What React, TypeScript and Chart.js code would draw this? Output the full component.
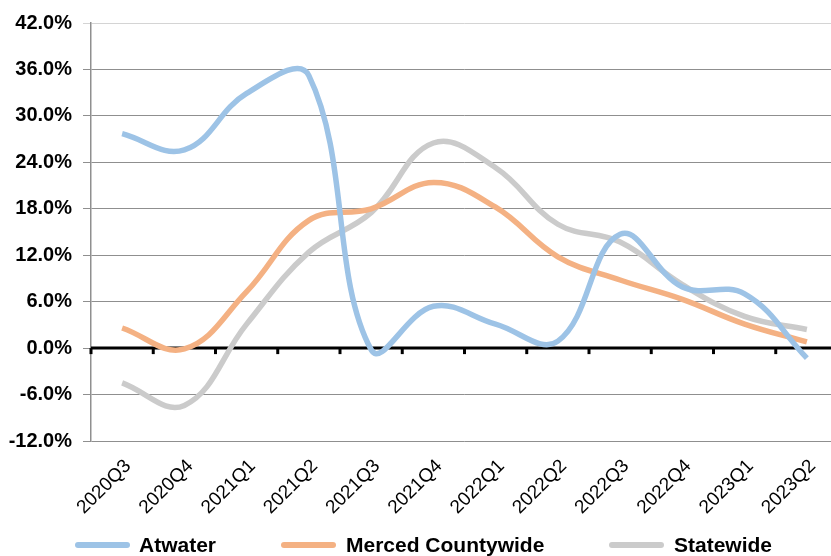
import React, { useEffect, useRef } from "react";
import { Chart, registerables } from "chart.js";

Chart.register(...registerables);

const categories = ["2020Q3", "2020Q4", "2021Q1", "2021Q2", "2021Q3", "2021Q4", "2022Q1", "2022Q2", "2022Q3", "2022Q4", "2023Q1", "2023Q2"];
const atwater = [27.7, 25.6, 32.9, 35.2, -0.2, 5.4, 3.1, 0.9, 14.7, 7.9, 7.0, -1.3];
const merced = [2.6, -0.1, 7.3, 16.5, 18.0, 21.4, 18.2, 11.8, 8.8, 6.3, 3.1, 0.8];
const statewide = [-4.5, -7.4, 3.1, 12.4, 17.5, 26.5, 23.3, 16.0, 13.7, 8.2, 4.1, 2.4];
const seriesNames = ["Atwater", "Merced Countywide", "Statewide"];
const colors = ["#9dc3e6", "#f4b183", "#cbcbcb"];

const zeroLinePlugin = {
  id: "zeroLine",
  beforeDatasetsDraw(chart: any) {
    const { ctx, chartArea, scales } = chart;
    const y0 = scales.y.getPixelForValue(0);
    const n = categories.length;
    const step = (chartArea.right - chartArea.left) / n;
    ctx.save();
    ctx.strokeStyle = "#000";
    ctx.lineWidth = 3;
    ctx.beginPath();
    ctx.moveTo(chartArea.left, y0);
    ctx.lineTo(chartArea.right, y0);
    ctx.stroke();
    for (let i = 0; i <= n; i++) {
      const x = chartArea.left + i * step;
      ctx.beginPath();
      ctx.moveTo(x, y0);
      ctx.lineTo(x, y0 + 6);
      ctx.stroke();
    }
    ctx.restore();
  },
};

export default function App() {
  const ref = useRef<HTMLCanvasElement>(null);
  useEffect(() => {
    if (!ref.current) return;
    const chart = new Chart(ref.current, {
      type: "line",
      data: {
        labels: categories,
        datasets: [atwater, merced, statewide].map((d, i) => ({
          label: seriesNames[i],
          data: d,
          borderColor: colors[i],
          backgroundColor: colors[i],
          borderWidth: 5.5,
          pointRadius: 0,
          tension: 0.4,
          fill: false,
        })),
      },
      options: {
        responsive: false,
        animation: false,
        devicePixelRatio: 1,
        layout: { padding: { top: 19, right: 2, left: 0, bottom: 0 } },
        plugins: { legend: { display: false }, tooltip: { enabled: false } },
        scales: {
          x: {
            offset: true,
            grid: { display: false },
            border: { display: false },
            ticks: {
              minRotation: 45,
              maxRotation: 45,
              color: "#000",
              padding: 6,
              labelOffset: 6,
              font: { family: "'Liberation Sans', Arial, sans-serif", size: 19 },
            },
            afterFit(scale: any) {
              scale.height = 115;
            },
          },
          y: {
            min: -12,
            max: 42,
            grid: {
              color: (c: any) => (c.tick && c.tick.value === 42 ? "#d4d4d4" : "#8f8f8f"),
              lineWidth: 1,
              tickLength: 8,
            },
            border: { color: "#8f8f8f", width: 1.5 },
            ticks: {
              stepSize: 6,
              color: "#000",
              padding: 11,
              font: { family: "'Liberation Sans', Arial, sans-serif", size: 20, weight: "bold" },
              callback: (v: any) => Number(v).toFixed(1) + "%",
            },
            afterFit(scale: any) {
              scale.width = 91;
            },
          },
        },
      },
      plugins: [zeroLinePlugin],
    } as any);
    return () => chart.destroy();
  }, []);

  const legendPos = [
    { m: 75, t: 139 },
    { m: 281, t: 346 },
    { m: 609, t: 674 },
  ];

  return (
    <div style={{ position: "fixed", left: 0, top: 0, width: 831, height: 556, overflow: "hidden", background: "#fff" }}>
      <canvas ref={ref} width={840} height={556} style={{ width: 840, height: 556, display: "block" }} />
      {seriesNames.map((name, i) => (
        <React.Fragment key={name}>
          <div
            style={{
              position: "absolute",
              left: legendPos[i].m,
              top: 542,
              width: 55,
              height: 6,
              borderRadius: 3,
              background: colors[i],
            }}
          />
          <span
            style={{
              position: "absolute",
              left: legendPos[i].t,
              top: 534,
              fontFamily: "'Liberation Sans', Arial, sans-serif",
              fontWeight: "bold",
              fontSize: 21,
              lineHeight: "21px",
              whiteSpace: "nowrap",
              color: "#000",
            }}
          >
            {name}
          </span>
        </React.Fragment>
      ))}
    </div>
  );
}
